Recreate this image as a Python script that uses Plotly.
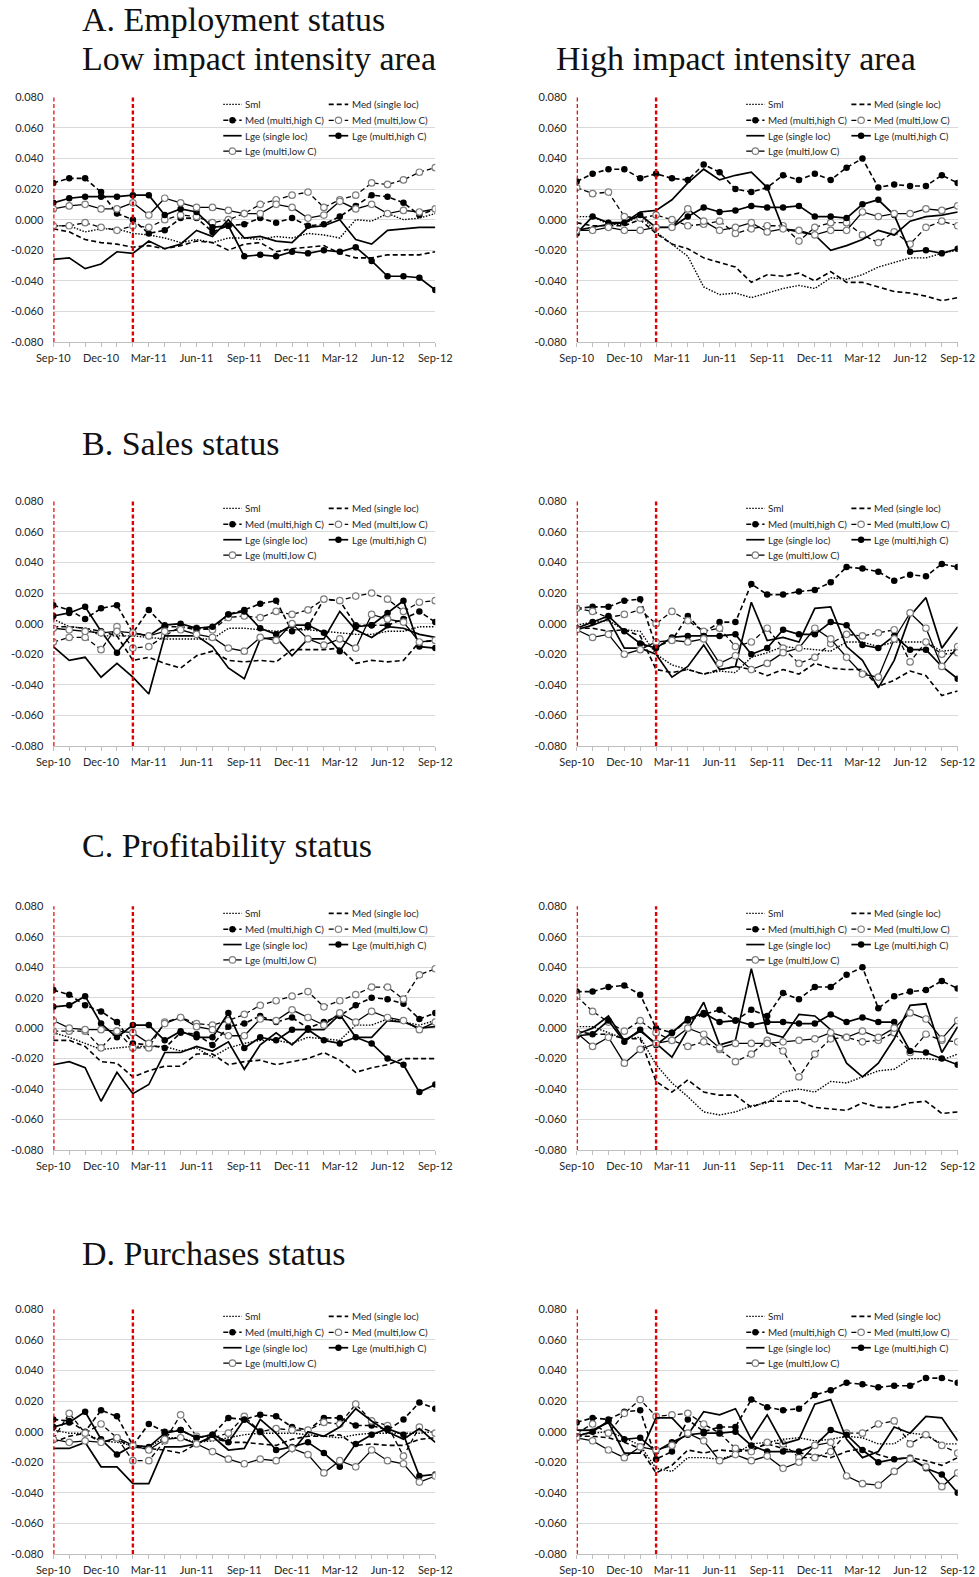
import plotly.graph_objects as go

# ---------------- data ----------------
months = ["Sep-10", "Oct-10", "Nov-10", "Dec-10", "Jan-11", "Feb-11", "Mar-11", "Apr-11", "May-11",
          "Jun-11", "Jul-11", "Aug-11", "Sep-11", "Oct-11", "Nov-11", "Dec-11", "Jan-12", "Feb-12",
          "Mar-12", "Apr-12", "May-12", "Jun-12", "Jul-12", "Aug-12", "Sep-12"]
tick_labels = ["Sep-10", "Dec-10", "Mar-11", "Jun-11", "Sep-11", "Dec-11", "Mar-12", "Jun-12", "Sep-12"]
y_ticks = [-0.08, -0.06, -0.04, -0.02, 0.0, 0.02, 0.04, 0.06, 0.08]
event_months = ["Sep-10", "Feb-11"]
series_names = ["Sml", "Med (single loc)", "Med (multi,high C)", "Med (multi,low C)",
                "Lge (single loc)", "Lge (multi,high C)", "Lge (multi,low C)"]

# A. Employment status - low impact intensity area
emp_low_sml = [-0.004, -0.004, -0.008, -0.006, -0.006, -0.009, -0.010, -0.012, -0.015, -0.013, -0.015, -0.012, -0.012, -0.013, -0.011, -0.012, -0.009, -0.010, -0.012, 0.000, -0.001, 0.004, 0.000, 0.001, 0.004]
emp_low_med_single = [-0.006, -0.008, -0.013, -0.015, -0.016, -0.018, -0.017, -0.019, -0.017, -0.014, -0.015, -0.020, -0.016, -0.015, -0.021, -0.019, -0.018, -0.017, -0.022, -0.025, -0.025, -0.023, -0.023, -0.023, -0.021]
emp_low_med_high = [0.024, 0.027, 0.027, 0.018, 0.004, 0.000, -0.009, -0.007, 0.001, 0.001, -0.008, -0.004, -0.003, 0.001, -0.002, 0.001, -0.004, -0.003, 0.002, 0.009, 0.016, 0.015, 0.011, 0.003, 0.007]
emp_low_med_low = [-0.004, -0.004, -0.002, -0.005, -0.007, -0.004, -0.005, 0.000, 0.003, 0.002, -0.002, 0.000, 0.004, 0.010, 0.013, 0.016, 0.018, 0.008, 0.013, 0.016, 0.024, 0.023, 0.026, 0.031, 0.034]
emp_low_lge_single = [-0.026, -0.025, -0.032, -0.029, -0.021, -0.022, -0.014, -0.019, -0.016, -0.007, -0.011, 0.000, -0.012, -0.011, -0.014, -0.015, -0.005, -0.004, 0.000, -0.013, -0.016, -0.007, -0.006, -0.005, -0.005]
emp_low_lge_high = [0.011, 0.014, 0.015, 0.015, 0.015, 0.016, 0.016, 0.003, 0.007, 0.005, -0.005, -0.004, -0.024, -0.023, -0.024, -0.021, -0.022, -0.020, -0.021, -0.018, -0.027, -0.037, -0.037, -0.038, -0.046]
emp_low_lge_low = [0.007, 0.009, 0.010, 0.007, 0.007, 0.011, 0.003, 0.014, 0.011, 0.008, 0.008, 0.006, 0.004, 0.004, 0.010, 0.008, 0.001, 0.003, 0.012, 0.007, 0.010, 0.004, 0.006, 0.005, 0.007]

# A. Employment status - high impact intensity area
emp_high_sml = [0.002, 0.002, -0.003, -0.003, 0.003, -0.008, -0.016, -0.024, -0.044, -0.049, -0.048, -0.051, -0.048, -0.045, -0.043, -0.045, -0.038, -0.039, -0.036, -0.031, -0.028, -0.025, -0.025, -0.022, -0.020]
emp_high_med_single = [-0.002, -0.004, -0.004, -0.004, 0.000, -0.009, -0.016, -0.019, -0.025, -0.028, -0.031, -0.041, -0.036, -0.037, -0.035, -0.040, -0.034, -0.041, -0.041, -0.044, -0.047, -0.048, -0.050, -0.053, -0.051]
emp_high_med_high = [0.025, 0.030, 0.033, 0.033, 0.027, 0.030, 0.027, 0.026, 0.036, 0.031, 0.020, 0.018, 0.021, 0.029, 0.026, 0.030, 0.026, 0.034, 0.040, 0.021, 0.023, 0.022, 0.022, 0.029, 0.024]
emp_high_med_low = [0.021, 0.017, 0.018, 0.002, 0.001, 0.003, 0.000, -0.004, -0.003, -0.001, -0.009, -0.006, -0.004, -0.004, -0.014, -0.005, -0.002, -0.002, -0.010, -0.015, -0.008, -0.016, -0.005, -0.001, -0.004]
emp_high_lge_single = [-0.007, -0.005, -0.003, -0.002, 0.005, 0.006, 0.013, 0.024, 0.033, 0.026, 0.029, 0.031, 0.021, -0.006, -0.008, -0.010, -0.020, -0.017, -0.013, -0.007, -0.010, -0.001, 0.002, 0.003, 0.005]
emp_high_lge_high = [-0.009, 0.002, -0.002, -0.002, 0.003, -0.005, -0.005, 0.002, 0.008, 0.005, 0.006, 0.009, 0.008, 0.008, 0.009, 0.002, 0.002, 0.001, 0.010, 0.013, 0.003, -0.021, -0.020, -0.022, -0.019]
emp_high_lge_low = [-0.007, -0.007, -0.005, -0.007, -0.007, -0.005, -0.005, 0.007, -0.001, -0.007, -0.005, -0.002, -0.008, -0.006, -0.007, -0.010, -0.007, -0.007, 0.005, 0.002, 0.004, 0.004, 0.007, 0.006, 0.009]

# B. Sales status - low
sal_low_sml = [0.003, -0.002, -0.003, -0.008, -0.008, -0.008, -0.009, -0.010, -0.010, -0.010, -0.010, -0.003, -0.003, -0.004, -0.005, -0.004, -0.004, -0.005, -0.006, -0.007, -0.007, -0.005, -0.005, -0.002, -0.002]
sal_low_med_single = [-0.002, -0.002, -0.003, -0.005, -0.008, -0.024, -0.022, -0.026, -0.029, -0.021, -0.018, -0.024, -0.025, -0.024, -0.025, -0.017, -0.017, -0.017, -0.016, -0.026, -0.024, -0.025, -0.024, -0.012, -0.011]
sal_low_med_high = [0.012, 0.009, 0.003, 0.010, 0.012, -0.006, 0.009, -0.002, -0.002, -0.004, -0.003, 0.006, 0.009, 0.013, 0.015, -0.005, -0.002, 0.016, 0.015, -0.001, -0.001, -0.001, 0.003, 0.008, 0.001]
sal_low_med_low = [-0.012, -0.009, -0.009, -0.017, -0.002, -0.016, -0.015, -0.008, -0.002, -0.003, -0.004, 0.004, 0.005, 0.004, 0.008, 0.006, 0.009, 0.016, 0.015, 0.018, 0.020, 0.016, 0.008, 0.014, 0.015]
sal_low_lge_single = [-0.015, -0.024, -0.022, -0.035, -0.026, -0.035, -0.046, -0.008, -0.008, -0.008, -0.015, -0.029, -0.036, -0.010, -0.009, -0.021, -0.010, -0.010, 0.008, -0.004, -0.009, -0.002, -0.003, -0.007, -0.009]
sal_low_lge_high = [0.005, 0.007, 0.011, -0.005, -0.019, -0.006, -0.008, -0.001, 0.000, -0.003, -0.002, 0.006, 0.008, -0.003, -0.007, -0.001, -0.001, -0.006, -0.018, -0.002, -0.001, 0.007, 0.015, -0.015, -0.016]
sal_low_lge_low = [-0.003, -0.004, -0.005, -0.006, -0.005, -0.006, -0.008, -0.005, -0.004, -0.007, -0.009, -0.016, -0.018, -0.009, -0.011, 0.000, -0.010, -0.014, -0.010, -0.016, 0.006, 0.003, 0.001, -0.012, -0.011]

# B. Sales status - high
sal_high_sml = [-0.001, 0.001, 0.002, -0.004, -0.005, -0.020, -0.027, -0.030, -0.033, -0.031, -0.032, -0.022, -0.019, -0.015, -0.016, -0.017, -0.018, -0.012, -0.012, -0.015, -0.012, -0.012, -0.012, -0.018, -0.017]
sal_high_med_single = [-0.003, -0.003, -0.005, -0.004, -0.008, -0.030, -0.032, -0.030, -0.033, -0.030, -0.028, -0.030, -0.034, -0.030, -0.033, -0.026, -0.029, -0.030, -0.030, -0.041, -0.037, -0.031, -0.034, -0.047, -0.044]
sal_high_med_high = [0.010, 0.011, 0.011, 0.015, 0.016, -0.015, -0.011, 0.005, -0.006, 0.001, 0.001, 0.026, 0.019, 0.019, 0.021, 0.022, 0.027, 0.037, 0.036, 0.034, 0.028, 0.032, 0.031, 0.039, 0.037]
sal_high_med_low = [0.010, 0.008, 0.004, 0.006, 0.009, 0.000, 0.008, 0.002, -0.005, -0.003, -0.015, -0.012, -0.003, -0.016, -0.026, -0.022, -0.013, -0.007, -0.008, -0.006, -0.004, -0.025, -0.012, -0.020, -0.019]
sal_high_lge_single = [-0.004, -0.001, 0.003, -0.016, -0.016, -0.020, -0.035, -0.028, -0.014, -0.030, -0.028, 0.014, -0.011, -0.009, -0.012, 0.010, 0.011, -0.015, -0.024, -0.042, -0.024, 0.005, 0.017, -0.016, -0.002]
sal_high_lge_high = [-0.003, 0.001, 0.005, -0.005, -0.013, -0.016, -0.009, -0.008, -0.008, -0.008, -0.007, -0.020, -0.016, -0.004, -0.007, -0.007, 0.001, -0.001, -0.014, -0.016, -0.008, -0.017, -0.017, -0.028, -0.036]
sal_high_lge_low = [-0.004, -0.009, -0.007, -0.020, -0.017, -0.012, -0.011, -0.012, -0.010, -0.026, -0.021, -0.030, -0.026, -0.019, -0.016, -0.003, -0.010, -0.022, -0.033, -0.035, -0.010, 0.007, -0.003, -0.028, -0.015]

# C. Profitability status - low
pro_low_sml = [-0.003, -0.006, -0.010, -0.014, -0.013, -0.012, -0.012, -0.012, -0.015, -0.013, -0.019, -0.013, -0.010, -0.008, -0.008, -0.010, -0.006, -0.007, -0.008, 0.002, 0.002, 0.006, 0.004, 0.002, 0.005]
pro_low_med_single = [-0.008, -0.008, -0.012, -0.022, -0.023, -0.032, -0.028, -0.025, -0.025, -0.017, -0.017, -0.024, -0.022, -0.021, -0.024, -0.022, -0.020, -0.016, -0.021, -0.029, -0.026, -0.024, -0.020, -0.020, -0.020]
pro_low_med_high = [0.025, 0.022, 0.015, 0.011, 0.004, -0.010, -0.011, -0.013, -0.003, -0.004, -0.011, 0.001, 0.003, 0.008, 0.004, 0.007, 0.000, 0.004, 0.008, 0.015, 0.020, 0.019, 0.016, 0.006, 0.010]
pro_low_med_low = [-0.002, -0.002, -0.002, -0.013, -0.002, -0.013, -0.013, 0.004, 0.007, 0.003, 0.002, 0.005, 0.009, 0.015, 0.018, 0.021, 0.024, 0.014, 0.018, 0.022, 0.027, 0.027, 0.019, 0.035, 0.039]
pro_low_lge_single = [-0.024, -0.022, -0.026, -0.048, -0.029, -0.043, -0.037, -0.016, -0.016, -0.012, -0.015, -0.009, -0.027, -0.011, -0.003, -0.011, -0.001, -0.001, 0.009, -0.006, -0.006, 0.005, 0.004, 0.000, 0.001]
pro_low_lge_high = [0.014, 0.015, 0.021, 0.003, -0.006, 0.002, 0.002, -0.008, -0.002, -0.006, -0.006, 0.010, -0.013, -0.006, -0.008, -0.001, -0.001, -0.008, -0.010, -0.006, -0.010, -0.020, -0.024, -0.042, -0.037]
pro_low_lge_low = [0.005, 0.000, -0.001, -0.001, -0.002, -0.003, -0.010, 0.003, 0.007, 0.001, -0.001, -0.005, -0.005, 0.006, 0.005, 0.012, 0.007, 0.002, 0.010, 0.004, 0.011, 0.007, 0.005, -0.001, 0.004]

# C. Profitability status - high
pro_high_sml = [0.001, 0.001, -0.003, -0.007, -0.006, -0.024, -0.036, -0.045, -0.055, -0.057, -0.055, -0.051, -0.049, -0.042, -0.040, -0.042, -0.035, -0.036, -0.032, -0.028, -0.027, -0.020, -0.020, -0.021, -0.017]
pro_high_med_single = [-0.002, -0.004, -0.004, -0.007, -0.007, -0.035, -0.042, -0.034, -0.042, -0.044, -0.044, -0.052, -0.048, -0.048, -0.048, -0.052, -0.053, -0.054, -0.049, -0.052, -0.052, -0.049, -0.048, -0.056, -0.055]
pro_high_med_high = [0.024, 0.024, 0.027, 0.028, 0.022, 0.000, -0.003, 0.005, 0.009, 0.012, 0.005, 0.012, 0.008, 0.023, 0.019, 0.027, 0.027, 0.035, 0.040, 0.013, 0.021, 0.024, 0.025, 0.031, 0.026]
pro_high_med_low = [0.021, 0.011, 0.004, -0.002, 0.005, -0.003, -0.008, -0.012, -0.009, -0.014, -0.022, -0.017, -0.008, -0.015, -0.032, -0.017, -0.007, -0.006, -0.009, -0.008, -0.003, -0.016, -0.004, -0.008, -0.009]
pro_high_lge_single = [-0.004, 0.000, 0.008, -0.008, -0.002, -0.010, -0.019, -0.001, 0.017, -0.011, -0.008, 0.039, -0.003, -0.006, 0.009, 0.008, -0.001, -0.023, -0.032, -0.023, -0.007, 0.015, 0.016, -0.016, 0.001]
pro_high_lge_high = [-0.005, -0.004, 0.005, -0.009, -0.001, -0.011, -0.003, 0.006, 0.010, 0.004, 0.005, 0.002, 0.004, 0.004, 0.003, 0.003, 0.009, 0.004, 0.007, 0.004, 0.004, -0.015, -0.016, -0.020, -0.024]
pro_high_lge_low = [-0.003, -0.012, -0.006, -0.023, -0.014, -0.010, -0.008, 0.000, -0.004, -0.013, -0.010, -0.010, -0.010, -0.009, -0.008, -0.007, -0.003, -0.006, -0.002, -0.006, 0.000, 0.010, 0.006, -0.007, 0.005]

# D. Purchases status - low
pur_low_sml = [0.001, -0.001, -0.001, -0.006, -0.007, -0.009, -0.010, -0.004, -0.004, -0.007, -0.006, -0.004, -0.002, -0.001, -0.001, -0.001, -0.002, -0.003, -0.004, -0.002, -0.001, -0.001, -0.001, -0.001, 0.000]
pur_low_med_single = [-0.007, -0.003, -0.001, -0.007, -0.005, -0.010, -0.011, -0.012, -0.014, -0.008, -0.004, -0.007, -0.007, -0.008, -0.009, -0.005, -0.003, -0.003, -0.002, -0.009, -0.008, -0.009, -0.009, -0.005, -0.004]
pur_low_med_high = [0.008, 0.007, 0.000, 0.014, 0.010, -0.009, 0.005, 0.000, 0.001, -0.004, -0.002, 0.009, 0.008, 0.011, 0.010, 0.003, 0.001, 0.009, 0.009, 0.004, 0.004, 0.001, 0.008, 0.019, 0.015]
pur_low_med_low = [-0.005, 0.012, -0.001, 0.005, -0.004, -0.019, -0.019, -0.006, 0.011, -0.003, -0.004, -0.001, 0.010, 0.000, 0.002, 0.001, 0.001, 0.006, 0.005, 0.018, 0.007, 0.004, -0.016, 0.003, -0.001]
pur_low_lge_single = [-0.011, -0.011, -0.007, -0.023, -0.023, -0.034, -0.034, -0.010, -0.010, -0.008, -0.003, -0.012, -0.011, 0.008, -0.001, -0.013, 0.000, -0.003, 0.003, 0.015, 0.007, 0.000, -0.005, 0.002, -0.007]
pur_low_lge_high = [0.003, 0.006, 0.013, -0.005, -0.015, -0.009, -0.010, -0.001, 0.001, -0.004, -0.002, -0.007, 0.008, 0.000, -0.012, -0.010, -0.007, -0.014, -0.023, -0.008, -0.002, 0.002, -0.002, -0.029, -0.028]
pur_low_lge_low = [-0.005, -0.007, -0.006, -0.007, -0.004, -0.009, -0.012, -0.005, -0.004, -0.008, -0.013, -0.018, -0.021, -0.018, -0.019, -0.011, -0.015, -0.027, -0.019, -0.023, -0.012, -0.019, -0.021, -0.033, -0.029]

# D. Purchases status - high
pur_high_sml = [-0.002, -0.001, 0.000, -0.004, -0.009, -0.024, -0.026, -0.017, -0.017, -0.018, -0.015, -0.008, -0.007, -0.005, -0.004, -0.006, -0.005, -0.003, -0.004, -0.008, -0.008, -0.001, -0.002, -0.008, -0.008]
pur_high_med_single = [-0.003, -0.003, -0.004, -0.007, -0.011, -0.027, -0.022, -0.012, -0.014, -0.012, -0.013, -0.012, -0.008, -0.011, -0.014, -0.015, -0.017, -0.013, -0.011, -0.015, -0.018, -0.017, -0.019, -0.022, -0.017]
pur_high_med_high = [0.006, 0.009, 0.008, 0.013, 0.014, -0.018, -0.013, 0.008, 0.000, 0.003, 0.003, 0.021, 0.016, 0.014, 0.015, 0.024, 0.027, 0.032, 0.031, 0.029, 0.030, 0.030, 0.035, 0.035, 0.032]
pur_high_med_low = [-0.001, 0.005, -0.001, 0.012, 0.021, 0.010, 0.011, 0.012, 0.005, -0.001, -0.011, -0.013, -0.007, -0.008, -0.017, -0.017, -0.013, -0.001, -0.001, 0.005, 0.007, -0.008, -0.002, -0.009, -0.014]
pur_high_lge_single = [0.001, 0.001, 0.006, -0.014, -0.014, 0.009, 0.009, -0.002, 0.013, 0.011, 0.015, -0.005, 0.011, -0.008, -0.005, 0.018, 0.021, -0.005, -0.017, -0.013, 0.003, -0.001, 0.010, 0.009, -0.006]
pur_high_lge_high = [-0.003, 0.000, 0.007, -0.005, -0.004, -0.013, -0.007, -0.002, -0.001, -0.001, 0.000, -0.009, -0.013, -0.013, -0.013, -0.009, 0.001, -0.002, -0.012, -0.020, -0.018, -0.017, -0.024, -0.028, -0.040]
pur_high_lge_low = [-0.004, -0.006, -0.012, -0.017, -0.010, -0.012, -0.009, -0.001, -0.006, -0.019, -0.015, -0.019, -0.016, -0.024, -0.020, -0.009, -0.007, -0.029, -0.034, -0.035, -0.026, -0.018, -0.023, -0.036, -0.027]

section_titles = ["A. Employment status", "B. Sales status", "C. Profitability status", "D. Purchases status"]
area_titles = ["Low impact intensity area", "High impact intensity area"]

panels = [
    [emp_low_sml, emp_low_med_single, emp_low_med_high, emp_low_med_low, emp_low_lge_single, emp_low_lge_high, emp_low_lge_low],
    [emp_high_sml, emp_high_med_single, emp_high_med_high, emp_high_med_low, emp_high_lge_single, emp_high_lge_high, emp_high_lge_low],
    [sal_low_sml, sal_low_med_single, sal_low_med_high, sal_low_med_low, sal_low_lge_single, sal_low_lge_high, sal_low_lge_low],
    [sal_high_sml, sal_high_med_single, sal_high_med_high, sal_high_med_low, sal_high_lge_single, sal_high_lge_high, sal_high_lge_low],
    [pro_low_sml, pro_low_med_single, pro_low_med_high, pro_low_med_low, pro_low_lge_single, pro_low_lge_high, pro_low_lge_low],
    [pro_high_sml, pro_high_med_single, pro_high_med_high, pro_high_med_low, pro_high_lge_single, pro_high_lge_high, pro_high_lge_low],
    [pur_low_sml, pur_low_med_single, pur_low_med_high, pur_low_med_low, pur_low_lge_single, pur_low_lge_high, pur_low_lge_low],
    [pur_high_sml, pur_high_med_single, pur_high_med_high, pur_high_med_low, pur_high_lge_single, pur_high_lge_high, pur_high_lge_low],
]

# ---------------- styles ----------------
W, H = 979, 1577
DASH = "5px,3px"
DOT = "1.5px,1.5px"
styles = [
    dict(dash=DOT, width=1.4, marker=None),
    dict(dash=DASH, width=1.6, marker=None),
    dict(dash=DASH, width=1.6, marker="filled"),
    dict(dash=DASH, width=1.3, marker="open"),
    dict(dash="solid", width=1.7, marker=None),
    dict(dash="solid", width=1.7, marker="filled"),
    dict(dash="solid", width=1.3, marker="open"),
]
legend_slots = [(0, 0), (1, 0), (0, 1), (1, 1), (0, 2), (1, 2), (0, 3)]

TICK_FONT = dict(family="Lato, Liberation Sans, sans-serif", size=11, color="#262626")
LEG_FONT = dict(family="Lato, Liberation Sans, sans-serif", size=9.8, color="#262626")
TITLE_FONT = dict(family="Liberation Serif, DejaVu Serif, serif", size=34, color="#111111")

x_dom = [(53.3 / W, 435.3 / W), (576.7 / W, 957.7 / W)]
y_px = [(97.3, 342.0), (501.3, 746.0), (906.3, 1150.0), (1309.3, 1554.0)]

x_idx = list(range(len(months)))
tickvals = [months.index(t) for t in tick_labels]
y_ticktext = [f"{v:.3f}" for v in y_ticks]

fig = go.Figure()
layout = dict(width=W, height=H, margin=dict(l=0, r=0, t=0, b=0, autoexpand=False),
              paper_bgcolor="white", plot_bgcolor="white", showlegend=False)
shapes = []
annotations = []

for k, data in enumerate(panels):
    n = k + 1
    sfx = "" if n == 1 else str(n)
    row, col = k // 2, k % 2
    xa, ya = f"x{sfx}", f"y{sfx}"
    top, bot = y_px[row]
    layout[f"xaxis{sfx}"] = dict(
        domain=list(x_dom[col]), anchor=ya, range=[0, len(months) - 1], automargin=False,
        tickmode="array", tickvals=tickvals, ticktext=tick_labels,
        showgrid=False, zeroline=False, showline=True, linecolor="#BFBFBF", linewidth=1,
        ticks="outside", ticklen=4, tickcolor="#BFBFBF", tickwidth=1,
        minor=dict(tickmode="linear", tick0=0, dtick=1, ticks="outside", ticklen=4,
                   tickcolor="#BFBFBF", tickwidth=1),
        tickfont=TICK_FONT, ticklabelstandoff=2, fixedrange=True)
    layout[f"yaxis{sfx}"] = dict(
        domain=[1 - bot / H, 1 - top / H], anchor=xa, range=[-0.08, 0.08], automargin=False,
        tickmode="array", tickvals=y_ticks, ticktext=y_ticktext,
        showgrid=True, gridcolor="#D9D9D9", gridwidth=1, zeroline=False, showline=False,
        ticks="", tickfont=TICK_FONT, ticklabelstandoff=9, fixedrange=True)

    for s, (name, vals) in enumerate(zip(series_names, data)):
        st = styles[s]
        kw = dict(x=x_idx, y=vals, name=name, xaxis=xa, yaxis=ya, showlegend=False,
                  line=dict(color="black", width=st["width"], dash=st["dash"]))
        if st["marker"] == "filled":
            kw["mode"] = "lines+markers"
            kw["marker"] = dict(symbol="circle", size=6.5, color="black", line=dict(width=0))
        elif st["marker"] == "open":
            kw["mode"] = "lines+markers"
            kw["marker"] = dict(symbol="circle", size=6.5, color="white",
                                line=dict(color="#7F7F7F", width=1.2))
        else:
            kw["mode"] = "lines"
        fig.add_trace(go.Scatter(**kw))

    # event markers (red dashed verticals)
    for ev in event_months:
        xv = months.index(ev)
        shapes.append(dict(type="line", xref=xa, yref=f"{ya} domain", x0=xv, x1=xv, y0=0, y1=1,
                           line=dict(color="#E00000", width=2.4, dash="4px,2.5px"), layer="above"))

    # legend (two columns inside the plot area)
    xd, yd = f"{xa} domain", f"{ya} domain"
    col_x = [(0.445, 0.493, 0.497), (0.721, 0.772, 0.776)]
    row_y = [0.971, 0.906, 0.843, 0.780]
    for s, (c, r) in enumerate(legend_slots):
        st = styles[s]
        sx0, sx1, tx = col_x[c]
        yy = row_y[r]
        shapes.append(dict(type="line", xref=xd, yref=yd, x0=sx0, x1=sx1, y0=yy, y1=yy,
                           line=dict(color="black", width=st["width"], dash=st["dash"])))
        if st["marker"]:
            filled = st["marker"] == "filled"
            shapes.append(dict(type="circle", xref=xd, yref=yd, xsizemode="pixel", ysizemode="pixel",
                               xanchor=(sx0 + sx1) / 2, yanchor=yy, x0=-3.2, x1=3.2, y0=-3.2, y1=3.2,
                               fillcolor="black" if filled else "white",
                               line=dict(color="black" if filled else "#7F7F7F", width=0 if filled else 1.2)))
        annotations.append(dict(text=series_names[s], xref=xd, yref=yd, x=tx, y=yy,
                                xanchor="left", yanchor="middle", showarrow=False, font=LEG_FONT))

# titles
title_y = [19.6, 443.7, 845.0, 1253.0]
for i, t in enumerate(section_titles):
    annotations.append(dict(text=t, xref="paper", yref="paper", x=79.5 / W, y=1 - title_y[i] / H,
                            xanchor="left", yanchor="middle", showarrow=False, font=TITLE_FONT))
annotations.append(dict(text=area_titles[0], xref="paper", yref="paper", x=79.5 / W, y=1 - 58.4 / H,
                        xanchor="left", yanchor="middle", showarrow=False, font=TITLE_FONT))
annotations.append(dict(text=area_titles[1], xref="paper", yref="paper", x=554.0 / W, y=1 - 58.4 / H,
                        xanchor="left", yanchor="middle", showarrow=False, font=TITLE_FONT))

layout["shapes"] = shapes
layout["annotations"] = annotations
fig.update_layout(**layout)
fig.write_html("out.html", config={"displayModeBar": False, "staticPlot": True},
               post_script="document.body.style.margin='0px';document.body.style.overflow='hidden';")
